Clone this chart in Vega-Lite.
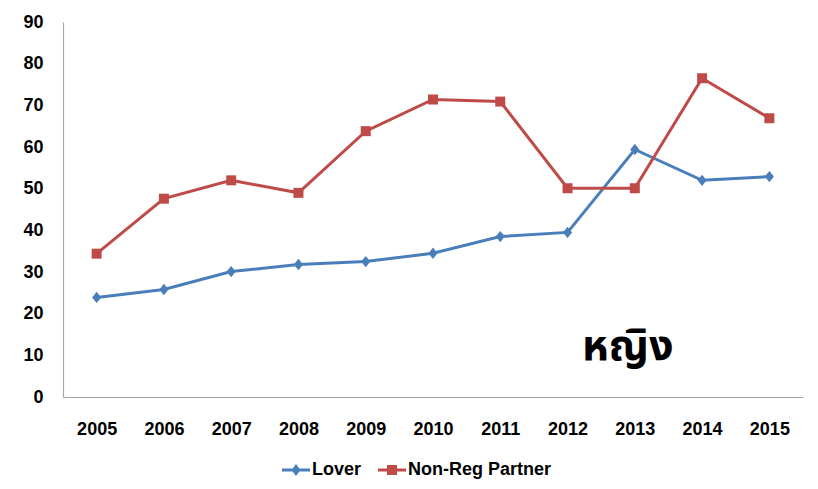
{
  "$schema": "https://vega.github.io/schema/vega-lite/v6.json",
  "width": 740,
  "height": 375,
  "autosize": {"type": "none"},
  "padding": {"left": 63, "top": 22, "right": 15, "bottom": 92},
  "background": "white",
  "config": {
    "view": {"stroke": null},
    "font": "Liberation Sans, Arial, sans-serif",
    "axis": {"grid": false, "ticks": false, "tickSize": 0, "domainColor": "#a6a6a6", "domainWidth": 1.2, "labelFont": "Liberation Sans, Arial, sans-serif", "labelFontSize": 18, "labelFontWeight": "bold", "labelColor": "#000000", "title": null},
    "legend": {"labelFont": "Liberation Sans, Arial, sans-serif", "labelFontSize": 18, "labelFontWeight": "bold", "labelColor": "#000000", "labelLimit": 0}
  },
  "data": {
    "values": [
      {"year": "2005", "series": "Lover", "value": 23.9},
      {"year": "2006", "series": "Lover", "value": 25.8},
      {"year": "2007", "series": "Lover", "value": 30.1},
      {"year": "2008", "series": "Lover", "value": 31.8},
      {"year": "2009", "series": "Lover", "value": 32.5},
      {"year": "2010", "series": "Lover", "value": 34.5},
      {"year": "2011", "series": "Lover", "value": 38.5},
      {"year": "2012", "series": "Lover", "value": 39.5},
      {"year": "2013", "series": "Lover", "value": 59.4},
      {"year": "2014", "series": "Lover", "value": 52.0},
      {"year": "2015", "series": "Lover", "value": 52.9},
      {"year": "2005", "series": "Non-Reg Partner", "value": 34.4},
      {"year": "2006", "series": "Non-Reg Partner", "value": 47.6},
      {"year": "2007", "series": "Non-Reg Partner", "value": 52.0},
      {"year": "2008", "series": "Non-Reg Partner", "value": 49.0},
      {"year": "2009", "series": "Non-Reg Partner", "value": 63.8},
      {"year": "2010", "series": "Non-Reg Partner", "value": 71.4},
      {"year": "2011", "series": "Non-Reg Partner", "value": 70.9},
      {"year": "2012", "series": "Non-Reg Partner", "value": 50.1},
      {"year": "2013", "series": "Non-Reg Partner", "value": 50.1},
      {"year": "2014", "series": "Non-Reg Partner", "value": 76.5},
      {"year": "2015", "series": "Non-Reg Partner", "value": 66.9}
    ]
  },
  "encoding": {
    "x": {"field": "year", "type": "ordinal", "scale": {"type": "point", "padding": 0.5}, "axis": {"labelAngle": 0, "labelPadding": 23, "labelBaseline": "top"}},
    "y": {"field": "value", "type": "quantitative", "scale": {"domain": [0, 90], "nice": false}, "axis": {"values": [0, 10, 20, 30, 40, 50, 60, 70, 80, 90], "labelPadding": 20}}
  },
  "layer": [
    {
      "mark": {"type": "line", "strokeWidth": 3},
      "encoding": {
        "color": {"field": "series", "type": "nominal", "scale": {"domain": ["Lover", "Non-Reg Partner"], "range": ["#4a7ebb", "#be4b48"]}, "legend": null}
      }
    },
    {
      "mark": {"type": "point", "filled": true, "opacity": 1},
      "encoding": {
        "color": {"field": "series", "type": "nominal", "scale": {"domain": ["Lover", "Non-Reg Partner"], "range": ["#4a7ebb", "#be4b48"]}, "legend": null},
        "shape": {"field": "series", "type": "nominal", "scale": {"domain": ["Lover", "Non-Reg Partner"], "range": ["M0,-1L0.8,0L0,1L-0.8,0Z", "square"]}, "legend": null},
        "size": {"field": "series", "type": "nominal", "scale": {"domain": ["Lover", "Non-Reg Partner"], "range": [130, 100]}, "legend": null}
      }
    },
    {
      "mark": {"type": "point", "filled": true, "opacity": 0},
      "encoding": {
        "color": {
          "field": "series", "type": "nominal",
          "scale": {"domain": ["Lover", "Non-Reg Partner"], "range": ["#4a7ebb", "#be4b48"]},
          "legend": {
            "title": null, "orient": "none", "direction": "horizontal", "legendX": 219, "legendY": 434,
            "symbolSize": 784, "symbolStrokeWidth": 0, "symbolOpacity": 1,
            "labelOffset": 2, "columnPadding": 16, "labelLimit": 0
          }
        },
        "shape": {
          "field": "series", "type": "nominal",
          "scale": {"domain": ["Lover", "Non-Reg Partner"], "range": ["M-1,-0.1L1,-0.1L1,0.1L-1,0.1Z M0,-0.43L0.32,0L0,0.43L-0.32,0Z", "M-1,-0.1L1,-0.1L1,0.1L-1,0.1Z M-0.36,-0.36L0.36,-0.36L0.36,0.36L-0.36,0.36Z"]},
          "legend": {
            "title": null, "orient": "none", "direction": "horizontal", "legendX": 219, "legendY": 434,
            "symbolSize": 784, "symbolStrokeWidth": 0, "symbolOpacity": 1,
            "labelOffset": 2, "columnPadding": 16, "labelLimit": 0
          }
        }
      }
    },
    {
      "data": {"values": [{"label": "หญิง", "year": "2013", "value": 9}]},
      "mark": {"type": "text", "fontSize": 43, "font": "Noto Sans Thai, Noto Sans, Loma, sans-serif", "fontWeight": "bold", "align": "center", "baseline": "alphabetic", "dx": -7, "color": "#000000"},
      "encoding": {"text": {"field": "label"}}
    }
  ],
  "resolve": {"scale": {"shape": "independent", "size": "independent", "color": "independent"}}
}
